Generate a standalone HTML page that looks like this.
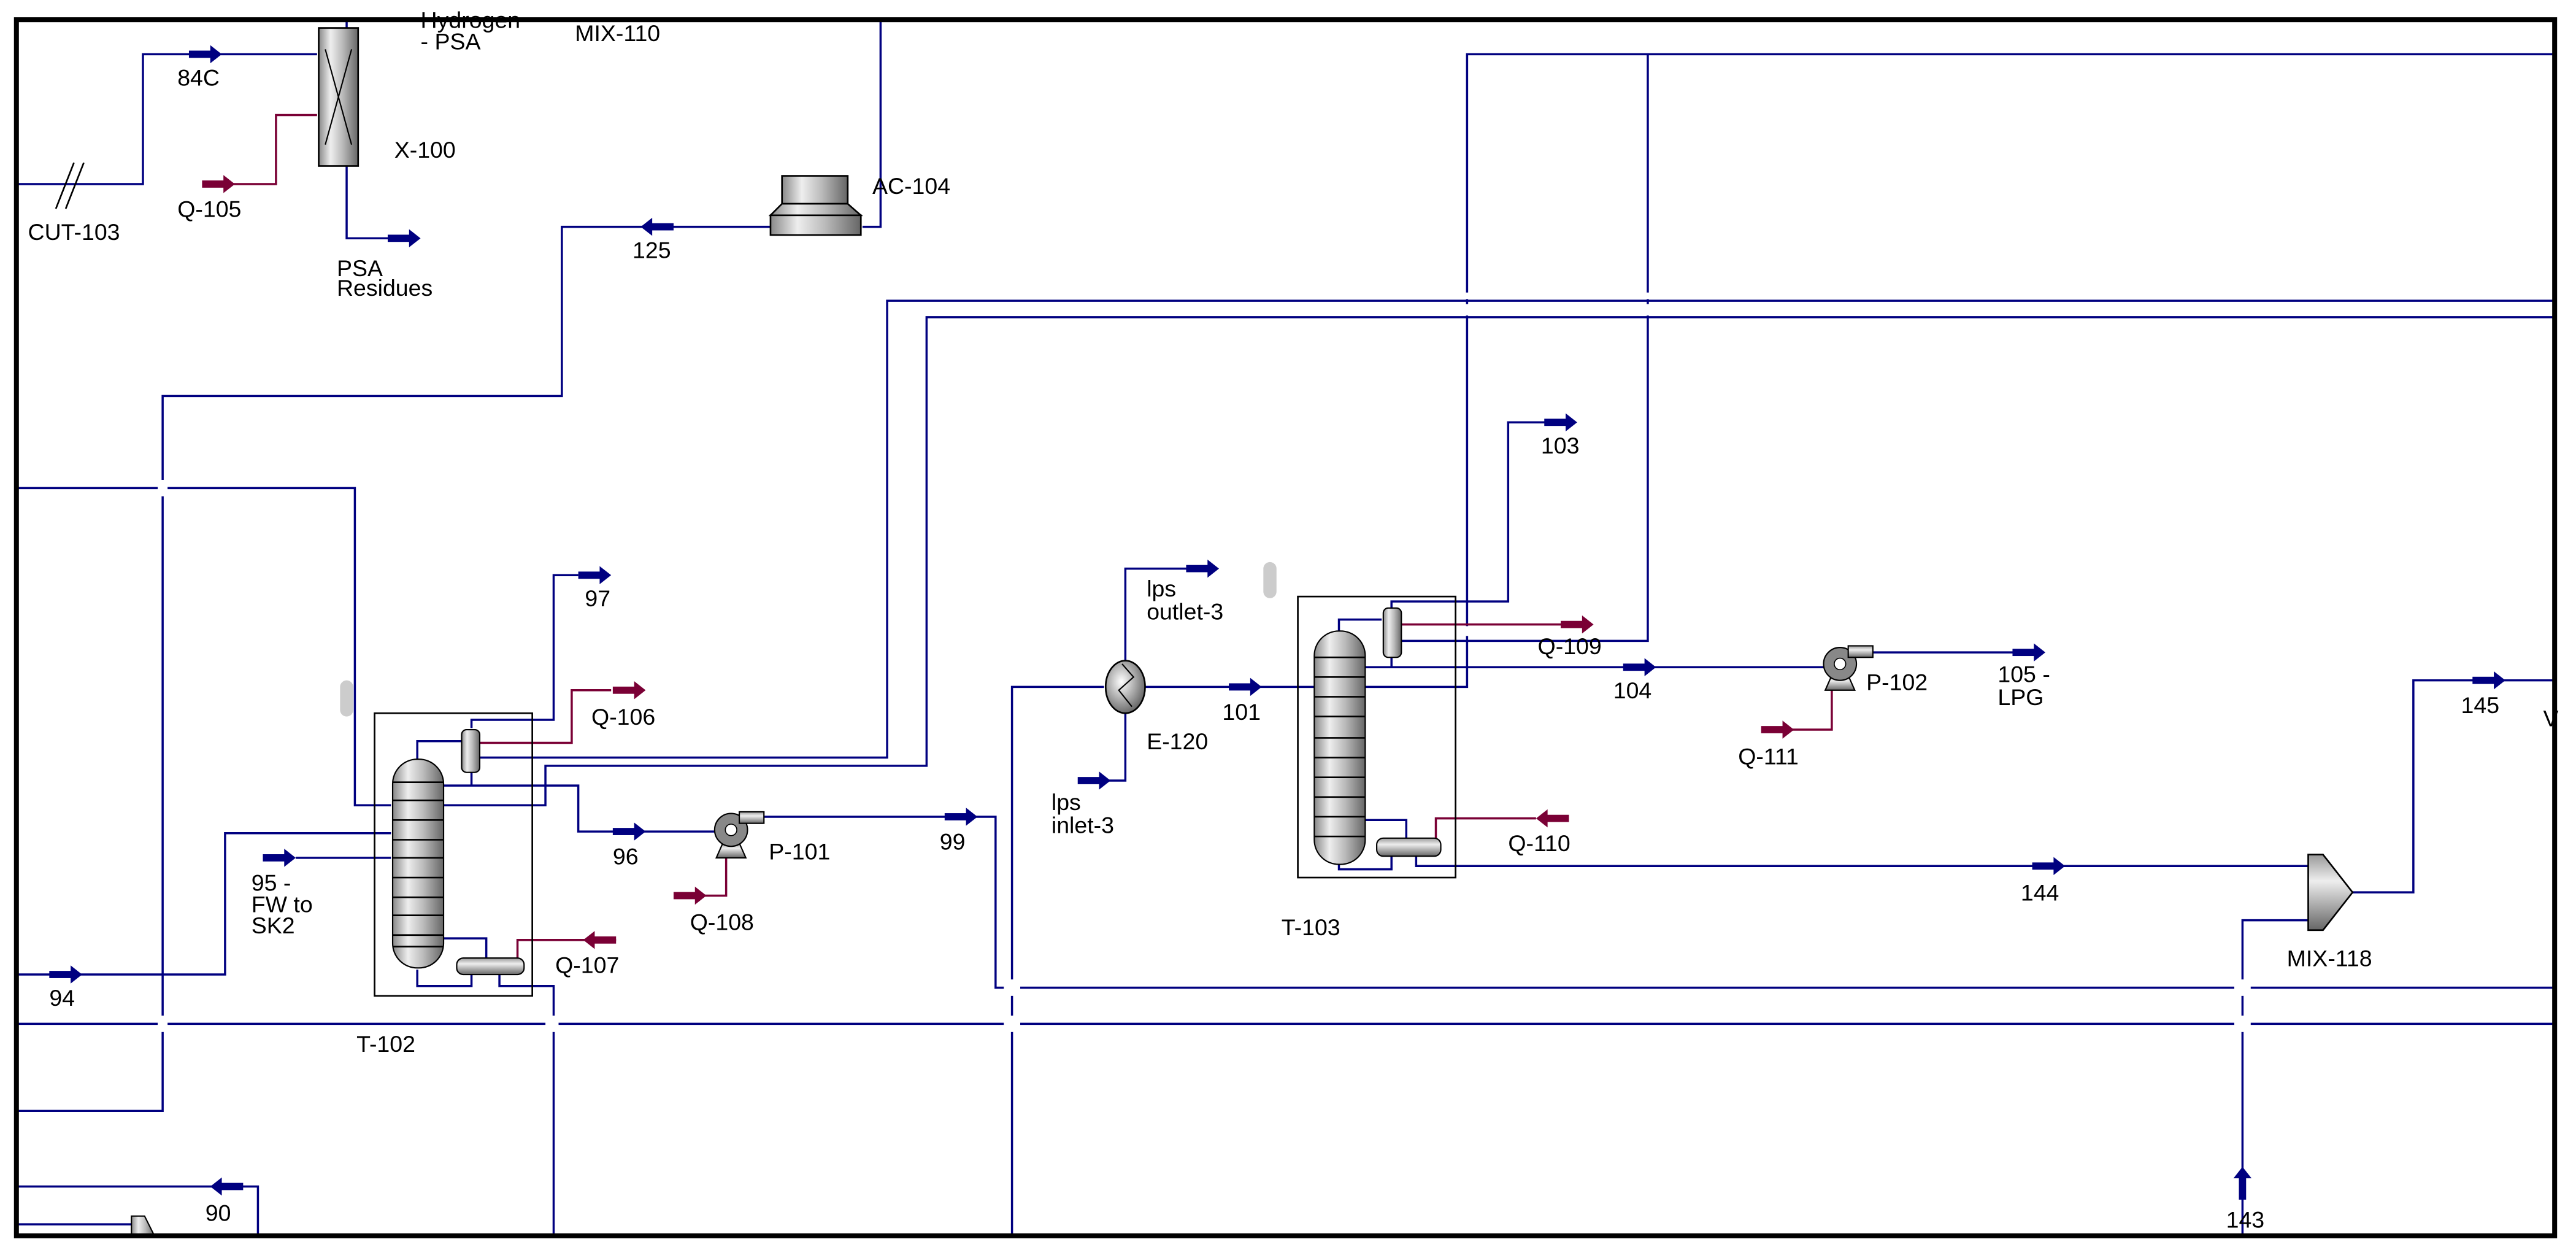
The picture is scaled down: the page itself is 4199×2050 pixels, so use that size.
<!DOCTYPE html>
<html><head><meta charset="utf-8"><style>
html,body{margin:0;padding:0;background:#fff;}
svg{display:block;}
text{font-family:"Liberation Sans",sans-serif;font-size:14px;fill:#000;}
</style></head><body>
<svg width="4199" height="2050" viewBox="0 0 1568 765.5" xmlns="http://www.w3.org/2000/svg">
<defs>
<linearGradient id="gv" x1="0" x2="1" y1="0" y2="0">
<stop offset="0" stop-color="#888"/><stop offset="0.3" stop-color="#eee"/><stop offset="0.6" stop-color="#bbb"/><stop offset="1" stop-color="#666"/></linearGradient>
<linearGradient id="gh" x1="0" x2="0" y1="0" y2="1">
<stop offset="0" stop-color="#999"/><stop offset="0.35" stop-color="#eee"/><stop offset="1" stop-color="#666"/></linearGradient>
<radialGradient id="gr" cx="0.4" cy="0.4" r="0.7"><stop offset="0" stop-color="#fff"/><stop offset="1" stop-color="#555"/></radialGradient>
<g id="ar"><rect x="0" y="-2.2" width="14" height="4.4" fill="#000080"/><polygon points="13,-5.5 20,0 13,5.5" fill="#000080"/></g>
<g id="am"><rect x="0" y="-2.2" width="14" height="4.4" fill="#7a0035"/><polygon points="13,-5.5 20,0 13,5.5" fill="#7a0035"/></g>
</defs>
<rect x="0" y="0" width="1568" height="766" fill="#fff"/>
<g fill="none" stroke="#000080" stroke-width="1.3">
<path d="M10 112 H87 V33 H193"/>
<path d="M211 12 V17 M211 101 V145 H240"/>
<path d="M536 12 V138 H525"/>
<path d="M469 138 H342 V241 H99 V676 H10"/>
<path d="M10 297 H216 V490 H238"/>
<path d="M10 593 H137 V507 H238"/>
<path d="M180 522 H238"/>
<path d="M254 462 V451 H281"/>
<path d="M287 470 V478"/>
<path d="M270 478 H352 V506 H436"/>
<path d="M292 461 H540 V183 H1555"/>
<path d="M270 490 H332 V466 H564 V193 H1555"/>
<path d="M287 443 V438 H337 V350 H352"/>
<path d="M254 590 V600 H287 V593"/>
<path d="M270 571 H296 V583"/>
<path d="M304 593 V600 H337 V752"/>
<path d="M10 623 H1555"/>
<path d="M465 497 H606 V601 H1555"/>
<path d="M616 752 V418 H672"/>
<path d="M697 418 H800"/>
<path d="M672 475 H685 V434"/>
<path d="M685 402 V346 H725"/>
<path d="M831 418 H893 V33 H1555"/>
<path d="M852 390 H1003 V33"/>
<path d="M847 370 V366 H918 V257 H942"/>
<path d="M815 385 V377 H841"/>
<path d="M847 400 V406"/>
<path d="M831 406 H1110"/>
<path d="M815 525 V529 H847 V521"/>
<path d="M831 499 H856 V510"/>
<path d="M862 521 V527 H1405"/>
<path d="M1130 397 H1228"/>
<path d="M1365 752 V560 H1405"/>
<path d="M1432 543 H1469 V414 H1555"/>
<path d="M10 722 H157 V752"/>
<path d="M10 745 H80"/>
</g>
<g fill="none" stroke="#7a0035" stroke-width="1.3">
<path d="M140 112 H168 V70 H193"/>
<path d="M292 452 H348 V420 H372"/>
<path d="M375 572 H315 V583"/>
<path d="M428 545 H442 V520"/>
<path d="M852 380 H952"/>
<path d="M935 498 H874 V510"/>
<path d="M1090 444 H1115 V418"/>
</g>
<g fill="#fff">
<rect x="96" y="292" width="6" height="10"/>
<rect x="96" y="618" width="6" height="10"/>
<rect x="332" y="618" width="8" height="10"/>
<rect x="611" y="596" width="10" height="10"/>
<rect x="611" y="618" width="10" height="10"/>
<rect x="1360" y="596" width="10" height="10"/>
<rect x="1360" y="618" width="10" height="10"/>
<rect x="888" y="178" width="10" height="4"/>
<rect x="888" y="185" width="10" height="7"/>
<rect x="998" y="178" width="10" height="4"/>
<rect x="998" y="185" width="10" height="7"/>
<rect x="888" y="381" width="10" height="6"/>
</g>
<g stroke="#000" stroke-width="1"><line x1="34" y1="127" x2="45" y2="99"/><line x1="40" y1="127" x2="51" y2="99"/></g>
<use href="#ar" x="115" y="33"/>
<use href="#am" x="123" y="112"/>
<use href="#ar" x="236" y="145"/>
<use href="#ar" x="30" y="593"/>
<use href="#ar" x="160" y="522"/>
<use href="#ar" x="352" y="350"/>
<use href="#am" x="373" y="420"/>
<use href="#ar" x="373" y="506"/>
<use href="#am" x="410" y="545"/>
<use href="#ar" x="575" y="497"/>
<use href="#ar" x="656" y="475"/>
<use href="#ar" x="722" y="346"/>
<use href="#ar" x="748" y="418"/>
<use href="#ar" x="940" y="257"/>
<use href="#am" x="950" y="380"/>
<use href="#ar" x="988" y="406"/>
<use href="#am" x="1072" y="444"/>
<use href="#ar" x="1225" y="397"/>
<use href="#ar" x="1237" y="527"/>
<use href="#ar" x="1505" y="414"/>
<g transform="translate(410 138) scale(-1 1)"><use href="#ar"/></g>
<g transform="translate(955 498) scale(-1 1)"><use href="#am"/></g>
<g transform="translate(375 572) scale(-1 1)"><use href="#am"/></g>
<g transform="translate(148 722) scale(-1 1)"><use href="#ar"/></g>
<g transform="translate(1365 730) rotate(-90)"><use href="#ar"/></g>
<rect x="194" y="17" width="24" height="84" fill="url(#gv)" stroke="#000" stroke-width="1"/>
<path d="M198 30 L214 88 M214 30 L198 88" stroke="#000" stroke-width="0.8"/>
<rect x="476" y="107" width="40" height="17" fill="url(#gv)" stroke="#000" stroke-width="1"/>
<polygon points="476,124 516,124 524,131 469,131" fill="url(#gv)" stroke="#000" stroke-width="1"/>
<rect x="469" y="131" width="55" height="12" fill="url(#gv)" stroke="#000" stroke-width="1"/>
<rect x="228" y="434" width="96" height="172" fill="none" stroke="#000" stroke-width="1"/>
<rect x="239" y="462" width="31" height="127" rx="15" fill="url(#gv)" stroke="#000" stroke-width="0.8"/>
<g stroke="#000" stroke-width="1"><path d="M239 476H270M239 487H270M239 499H270M239 511H270M239 522H270M239 534H270M239 546H270M239 557H270M239 569H270M239 576H270"/></g>
<rect x="281" y="444" width="11" height="26" rx="3" fill="url(#gv)" stroke="#000" stroke-width="0.8"/>
<rect x="278" y="583" width="41" height="10" rx="4" fill="url(#gh)" stroke="#000" stroke-width="0.8"/>
<polygon points="436,522 454,522 450,513 440,513" fill="url(#gh)" stroke="#000" stroke-width="0.8"/>
<circle cx="445" cy="505" r="10" fill="#888" stroke="#000" stroke-width="0.8"/>
<rect x="450" y="494" width="15" height="7" fill="url(#gh)" stroke="#000" stroke-width="0.8"/>
<circle cx="445" cy="505" r="3.5" fill="#fff" stroke="#000" stroke-width="0.6"/>
<ellipse cx="685" cy="418" rx="12" ry="16" fill="url(#gr)" stroke="#000" stroke-width="1"/>
<path d="M683 404 L690 412 L681 420 L689 430" fill="none" stroke="#000" stroke-width="0.8"/>
<rect x="790" y="363" width="96" height="171" fill="none" stroke="#000" stroke-width="1"/>
<rect x="800" y="384" width="31" height="142" rx="15" fill="url(#gv)" stroke="#000" stroke-width="0.8"/>
<g stroke="#000" stroke-width="1"><path d="M800 400H831M800 412H831M800 424H831M800 436H831M800 449H831M800 461H831M800 473H831M800 485H831M800 497H831M800 509H831"/></g>
<rect x="842" y="370" width="11" height="30" rx="3" fill="url(#gv)" stroke="#000" stroke-width="0.8"/>
<rect x="838" y="510" width="39" height="11" rx="4" fill="url(#gh)" stroke="#000" stroke-width="0.8"/>
<polygon points="1111,420 1129,420 1125,411 1115,411" fill="url(#gh)" stroke="#000" stroke-width="0.8"/>
<circle cx="1120" cy="404" r="10" fill="#888" stroke="#000" stroke-width="0.8"/>
<rect x="1125" y="393" width="15" height="7" fill="url(#gh)" stroke="#000" stroke-width="0.8"/>
<circle cx="1120" cy="404" r="3.5" fill="#fff" stroke="#000" stroke-width="0.6"/>
<polygon points="1405,520 1414,520 1432,543 1414,566 1405,566" fill="url(#gh)" stroke="#000" stroke-width="1"/>
<polygon points="80,752 80,740 88,740 94,752" fill="url(#gv)" stroke="#000" stroke-width="0.8"/>
<rect x="207" y="414" width="8" height="22" rx="4" fill="#ccc"/>
<rect x="769" y="342" width="8" height="22" rx="4" fill="#ccc"/>
<rect x="10" y="12" width="1545" height="740" fill="none" stroke="#000" stroke-width="3"/>
<text x="108" y="52">84C</text>
<text x="17" y="146">CUT-103</text>
<text x="108" y="132">Q-105</text>
<text x="240" y="96">X-100</text>
<text x="256" y="17">Hydrogen</text>
<text x="256" y="30">- PSA</text>
<text x="350" y="25">MIX-110</text>
<text x="205" y="168">PSA</text>
<text x="205" y="180">Residues</text>
<text x="531" y="118">AC-104</text>
<text x="385" y="157">125</text>
<text x="938" y="276">103</text>
<text x="356" y="369">97</text>
<text x="360" y="441">Q-106</text>
<text x="373" y="526">96</text>
<text x="468" y="523">P-101</text>
<text x="420" y="566">Q-108</text>
<text x="572" y="517">99</text>
<text x="153" y="542">95 -</text>
<text x="153" y="555">FW to</text>
<text x="153" y="568">SK2</text>
<text x="338" y="592">Q-107</text>
<text x="30" y="612">94</text>
<text x="217" y="640">T-102</text>
<text x="125" y="743">90</text>
<text x="698" y="363">lps</text>
<text x="698" y="377">outlet-3</text>
<text x="744" y="438">101</text>
<text x="698" y="456">E-120</text>
<text x="640" y="493">lps</text>
<text x="640" y="507">inlet-3</text>
<text x="780" y="569">T-103</text>
<text x="936" y="398">Q-109</text>
<text x="982" y="425">104</text>
<text x="918" y="518">Q-110</text>
<text x="1136" y="420">P-102</text>
<text x="1216" y="415">105 -</text>
<text x="1216" y="429">LPG</text>
<text x="1058" y="465">Q-111</text>
<text x="1230" y="548">144</text>
<text x="1392" y="588">MIX-118</text>
<text x="1498" y="434">145</text>
<text x="1548" y="442">V</text>
<text x="1355" y="747">143</text>
</svg>
</body></html>
